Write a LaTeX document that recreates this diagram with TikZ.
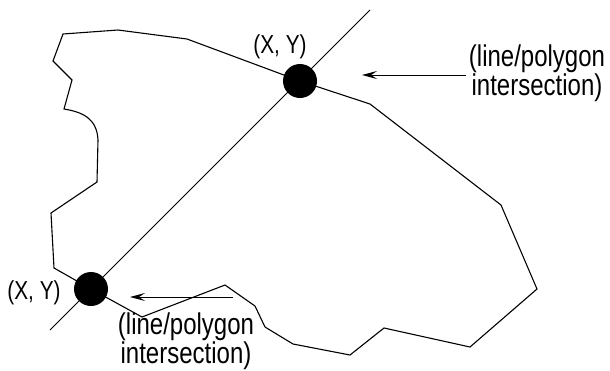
\documentclass[tikz,border=0pt]{standalone}
\usepackage{fontspec}
\setmainfont{Liberation Sans}[FakeStretch=0.8]
\usetikzlibrary{arrows.meta}
\begin{document}
\begin{tikzpicture}[x=1pt,y=-1pt,
  edge/.style={line width=1.1pt, line join=miter},
  dot/.style={circle, fill=black, minimum size=34pt, inner sep=0pt},
  lbl/.style={inner sep=0pt, align=center, font=\fontsize{30}{27}\selectfont},
  xy/.style={inner sep=0pt, font=\fontsize{26}{28}\selectfont},
  arr/.style={line width=1pt, -{Stealth[length=15pt,width=8pt,inset=6pt]}}]
\useasboundingbox (0,0) rectangle (610,370);
% diagonal line
\coordinate (ltop) at (370,10);
\coordinate (lbot) at (50,330);
\draw[line width=1pt] (ltop) -- (lbot);
% polygon
\draw[edge] (300,81) -- (370,104) -- (501,205) -- (537,289) -- (470,347)
  -- (384,328) -- (350,355) -- (293,344) -- (265,327) -- (255,306)
  -- (225,285) -- (142,317) -- (91,289) -- (54,268) -- (51,213)
  -- (97,182) -- (98,140) .. controls (97,118) and (82,112) .. (64,109)
  -- (72,80) -- (53,61) -- (63,34) -- (118,30) -- (187,39) -- cycle;
% intersection dots
\node[dot] (d1) at (300,81) {};
\node[dot] (d2) at (91,289) {};
% labels
\node[xy] (xy1) at (280,47) {(X, Y)};
\node[xy] (xy2) at (34,293) {(X, Y)};
\node[lbl] (lab1) at (537,73.5) {(line/polygon\\intersection)};
\node[lbl] (lab2) at (186,341) {(line/polygon\\intersection)};
% arrows
\coordinate (a1s) at (466,75);
\coordinate (a1e) at (362,75);
\draw[arr] (a1s) -- (a1e);
\coordinate (a2s) at (233,297);
\coordinate (a2e) at (130,297);
\draw[arr] (a2s) -- (a2e);
\end{tikzpicture}
\end{document}
